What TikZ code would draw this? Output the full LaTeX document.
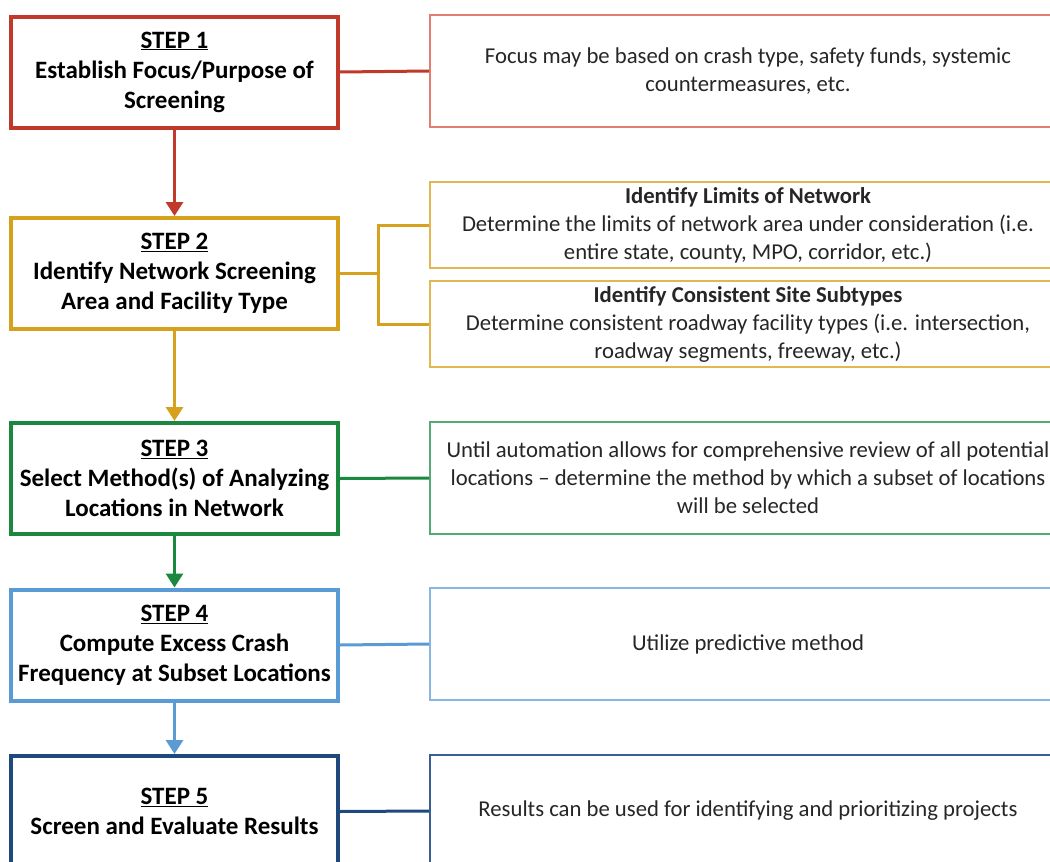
\documentclass[tikz,border=0pt]{standalone}
\usepackage{fontspec}
\setmainfont{Carlito}
\usetikzlibrary{arrows.meta}
\definecolor{cred}{RGB}{192,57,43}
\definecolor{credl}{RGB}{226,125,112}
\definecolor{cgold}{RGB}{214,162,30}
\definecolor{cgoldl}{RGB}{228,182,80}
\definecolor{cgreen}{RGB}{28,135,62}
\definecolor{cgreenl}{RGB}{85,170,115}
\definecolor{clblue}{RGB}{91,155,213}
\definecolor{clbluel}{RGB}{135,182,225}
\definecolor{cdblue}{RGB}{31,73,125}
\definecolor{cdbluel}{RGB}{55,95,150}
\begin{document}
\begin{tikzpicture}[x=1pt,y=-1pt,
  stepbox/.style={draw, line width=4pt, minimum width=327pt, minimum height=111pt,
    align=center, inner sep=0pt, font=\bfseries\fontsize{25}{30}\selectfont, text=black},
  descbox/.style={draw, line width=1.6pt, minimum width=636pt,
    align=center, inner sep=0pt, font=\fontsize{22.7}{28}\selectfont, text=black!85},
  flow/.style={line width=3pt, -{Triangle[width=17pt,length=14pt]}},
  link/.style={line width=3pt}]
\useasboundingbox[fill=white] (0,0) rectangle (1050,862);

% step boxes
\node[stepbox, draw=cred]   (s1) at (174.5,72)  {\underline{STEP 1}\\Establish Focus/Purpose of\\Screening};
\node[stepbox, draw=cgold]  (s2) at (174.5,273.5) {\underline{STEP 2}\\Identify Network Screening\\Area and Facility Type};
\node[stepbox, draw=cgreen] (s3) at (174.5,478.5) {\underline{STEP 3}\\Select Method(s) of Analyzing\\Locations in Network};
\node[stepbox, draw=clblue] (s4) at (174.5,645)   {\underline{STEP 4}\\Compute Excess Crash\\Frequency at Subset Locations};
\node[stepbox, draw=cdblue] (s5) at (174.5,811.5) {\underline{STEP 5}\\Screen and Evaluate Results};

% description boxes
\node[descbox, draw=credl, minimum height=112pt] (d1) at (748,71)
  {Focus may be based on crash type, safety funds, systemic\\countermeasures, etc.};
\node[descbox, draw=cgoldl, minimum height=86pt] (d2a) at (748,225)
  {\textbf{Identify Limits of Network}\\Determine the limits of network area under consideration (i.e.\\entire state, county, MPO, corridor, etc.)};
\node[descbox, draw=cgoldl, minimum height=86pt] (d2b) at (748,324)
  {\textbf{Identify Consistent Site Subtypes}\\Determine consistent roadway facility types (i.e. intersection,\\roadway segments, freeway, etc.)};
\node[descbox, draw=cgreenl, minimum height=112pt] (d3) at (748,478)
  {Until automation allows for comprehensive review of all potential\\locations -- determine the method by which a subset of locations\\will be selected};
\node[descbox, draw=clbluel, minimum height=112pt] (d4) at (748,644)
  {Utilize predictive method};
\node[descbox, draw=cdbluel, minimum height=112pt] (d5) at (748,811)
  {Results can be used for identifying and prioritizing projects};

% flow arrows
\draw[flow, draw=cred, fill=cred]     (s1.south) -- (s2.north);
\draw[flow, draw=cgold, fill=cgold]   (s2.south) -- (s3.north);
\draw[flow, draw=cgreen, fill=cgreen] (s3.south) -- (s4.north);
\draw[flow, draw=clblue, fill=clblue] (s4.south) -- (s5.north);

% side links
\draw[link, cred] (s1.east) -- (d1.west);
\coordinate (j2) at (378,273.5);
\draw[link, cgold] (s2.east) -- (j2);
\draw[link, cgold] (d2a.west) -| (j2) |- (d2b.west);
\draw[link, cgreen] (s3.east) -- (d3.west);
\draw[link, clblue] (s4.east) -- (d4.west);
\draw[link, cdblue] (s5.east) -- (d5.west);
\end{tikzpicture}
\end{document}
